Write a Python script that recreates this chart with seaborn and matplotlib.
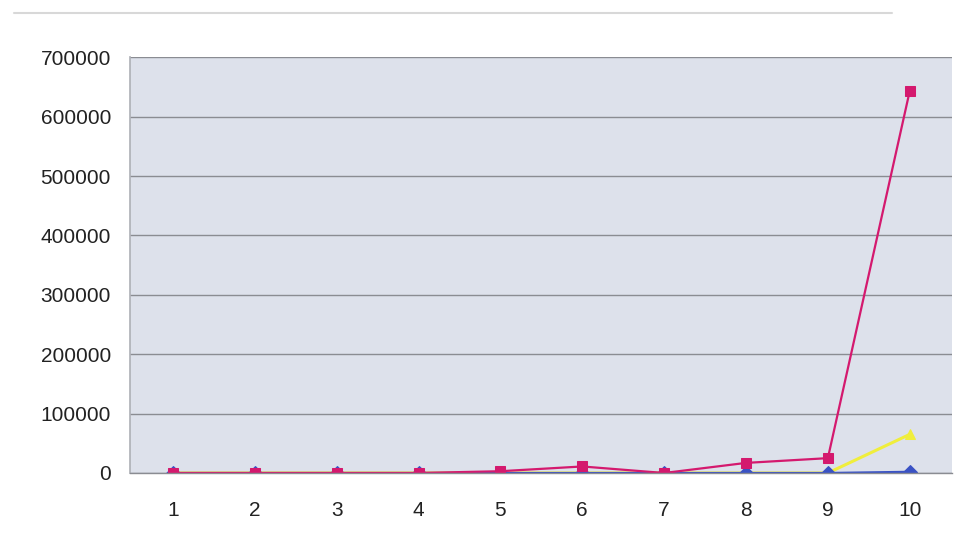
import matplotlib
matplotlib.use("Agg")
import matplotlib.pyplot as plt
import seaborn as sns
import pandas as pd

# Category positions along the x axis
categories = [1, 2, 3, 4, 5, 6, 7, 8, 9, 10]

# Series values
series_blue = [0, 0, 0, 0, 0, 0, 0, 0, 0, 2000]
series_magenta = [0, 0, 0, 0, 3000, 11000, 0, 17000, 25000, 643000]
series_yellow = [0, 0, 0, 0, 0, 0, 0, 0, 0, 65000]

y_ticks = [0, 100000, 200000, 300000, 400000, 500000, 600000, 700000]

names = ["A", "B", "C"]
values = [series_blue, series_magenta, series_yellow]
df = pd.DataFrame({
    "x": [c for _ in names for c in categories],
    "y": [v for vals in values for v in vals],
    "s": [n for n, vals in zip(names, values) for _ in vals],
})

sns.set_theme(style="whitegrid")
plt.rcParams["font.family"] = ["Liberation Sans", "DejaVu Sans"]

fig = plt.figure(figsize=(9.59, 5.5), dpi=100)
ax = fig.add_axes([0.136, 0.14, 0.857, 0.756])
ax.set_facecolor("#dde1eb")

palette = {"A": "#3a52c4", "B": "#d4196e", "C": "#f0ee3c"}
markers = {"A": "D", "B": "s", "C": "^"}
widths = {"A": 1.6, "B": 1.6, "C": 2.2}
# Draw order: yellow first, then blue, magenta on top
for name in ["C", "A", "B"]:
    sub = df[df["s"] == name]
    sns.lineplot(data=sub, x="x", y="y", ax=ax, color=palette[name],
                 marker=markers[name], markersize=7, markeredgecolor=palette[name],
                 linewidth=widths[name], legend=False)

ax.set_xlim(0.48, 10.52)
ax.set_ylim(0, 700000)
ax.set_xticks(categories)
ax.set_xticklabels([str(c) for c in categories])
ax.set_yticks(y_ticks)
ax.set_yticklabels([str(t) for t in y_ticks])
ax.set_xlabel("")
ax.set_ylabel("")

ax.grid(axis="y", color="#8a8c92", linewidth=1.0)
ax.grid(axis="x", visible=False)
for side in ["top", "right"]:
    ax.spines[side].set_visible(False)
ax.spines["left"].set_color("#b0b2b8")
ax.spines["bottom"].set_color("#8a8c92")
ax.spines["bottom"].set_linewidth(1.0)

ax.tick_params(axis="both", labelsize=15, colors="#222222", length=0)
ax.tick_params(axis="x", pad=20)
ax.tick_params(axis="y", pad=14)

# Outer chart frame line along the top
fig.add_artist(plt.Line2D([0.015, 0.93], [0.976, 0.976], color="#d8d8d8", linewidth=1.5))

fig.savefig("out.png", dpi=100, facecolor="white")
